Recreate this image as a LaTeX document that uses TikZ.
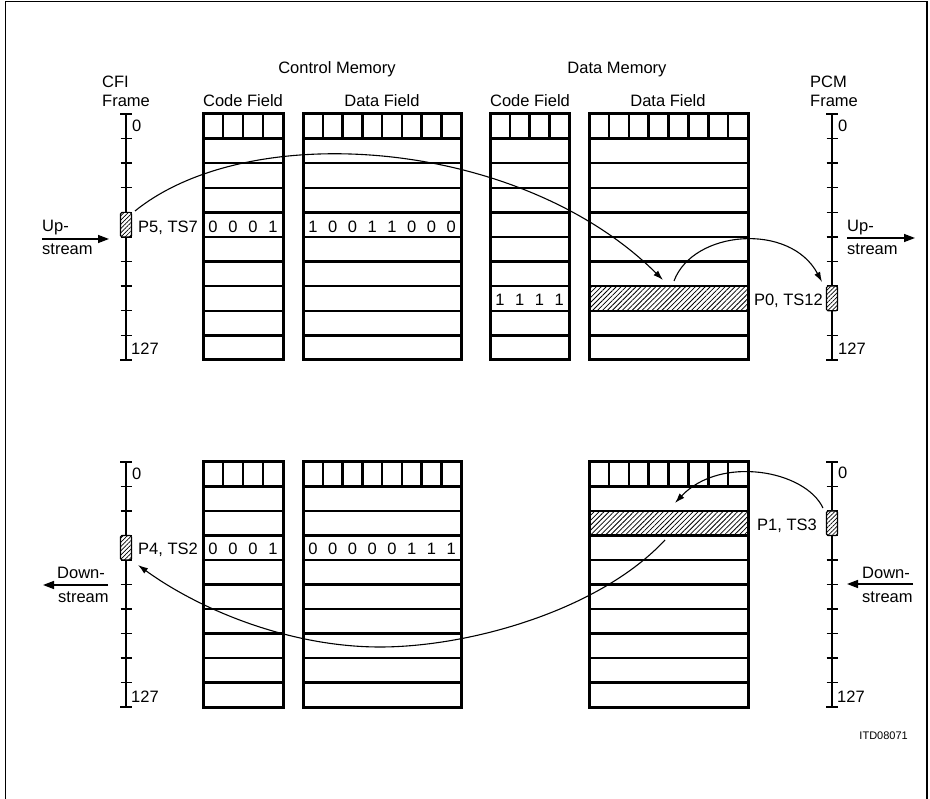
\documentclass[tikz,border=0pt]{standalone}
\usepackage{fontspec}
\setmainfont{Liberation Sans}
\usetikzlibrary{arrows.meta,patterns.meta}
\newcommand\drawmem[5]{%
  \pgfmathsetmacro\memybot{#3+10*#4}%
  \pgfmathtruncatemacro\memnm{#5-1}%
  \pgfmathsetmacro\memcw{(#2-#1)/#5}%
  \foreach \k in {1,...,9}{\draw[rowline] (#1,{#3+\k*#4}) -- (#2,{#3+\k*#4});}%
  \foreach \c in {1,...,\memnm}{\draw[rowline] ({#1+\c*\memcw},#3) -- ({#1+\c*\memcw},{#3+#4});}%
  \draw[memline] (#1,#3) rectangle (#2,\memybot);%
}
\newcommand\drawaxis[3]{%
  \draw[axisline] (#1,#2) -- (#1,{#2+10*#3});%
  \draw[axisline] ({#1-6},#2) -- ({#1+6},#2);%
  \draw[axisline] ({#1-6},{#2+10*#3}) -- ({#1+6},{#2+10*#3});%
  \foreach \k in {1,...,9}{\draw[axisline] ({#1-5.5},{#2+\k*#3}) -- ({#1+5.5},{#2+\k*#3});}%
}
% #1 name prefix, #2 x0, #3 cell width, #4 baseline, #5 digit list
\newcommand\digitrow[5]{%
  \foreach \d [count=\i] in {#5}{\node[ctr] (#1\i) at ({#2+(\i-0.5)*#3},#4) {\d};}%
}
\begin{document}
\begin{tikzpicture}[x=1pt,y=-1pt,
  every node/.style={inner sep=0pt, font=\fontsize{16.5}{19}\selectfont},
  memline/.style={line width=3pt, line join=miter},
  rowline/.style={line width=2.5pt},
  axisline/.style={line width=1.4pt},
  framebox/.style={line width=1.4pt},
  hatchbox/.style={draw, line width=1.1pt, rounded corners=1.5pt, minimum width=11pt, minimum height=24.6pt,
    preaction={fill=white}, pattern={Lines[angle=45,distance=3pt,line width=0.7pt]}},
  hatchrow/.style={minimum width=159pt, minimum height=24.6pt,
    pattern={Lines[angle=45,distance=3.5pt,line width=0.8pt]}},
  flow/.style={line width=1.1pt, -{Latex[length=10pt,width=6.5pt]}},
  streamarrow/.style={line width=1.4pt, -{Triangle[length=11pt,width=8pt]}},
  lbl/.style={anchor=base west},
  ctr/.style={anchor=base},
]
\useasboundingbox (0,0) rectangle (930,799);
% outer frame
\draw[framebox] (5.5,799) -- (5.5,1.5) -- (927,1.5) -- (927,799);

% ================= TOP SECTION =================
\node[lbl] (cfit) at (102,88) {CFI};
\node[lbl] (cfif) at (102,107) {Frame};
\node[lbl] (pcmt) at (810,88) {PCM};
\node[lbl] (pcmf) at (810,107) {Frame};
\node[ctr] (cmhead) at (337,74) {Control Memory};
\node[ctr] (dmhead) at (617,74) {Data Memory};
\node[ctr] (cmcf) at (243,107) {Code Field};
\node[ctr] (cmdf) at (382,107) {Data Field};
\node[ctr] (dmcf) at (530,107) {Code Field};
\node[ctr] (dmdf) at (668,107) {Data Field};

% hatched data memory row
\node[hatchrow] (dmrowA) at (668.5,298.5) {};
\drawmem{203}{283}{114}{24.6}{4}
\drawmem{303}{461}{114}{24.6}{8}
\drawmem{490}{569}{114}{24.6}{4}
\drawmem{589}{748}{114}{24.6}{8}

\drawaxis{126}{114}{24.6}
\drawaxis{832}{114}{24.6}
\node[hatchbox] (cfiA) at (126,224.7) {};
\node[hatchbox] (pcmA) at (832,298.5) {};

\node[lbl] (cfi0A) at (132,132) {0};
\node[lbl] (cfi127A) at (131,355) {127};
\node[lbl] (pcm0A) at (838,132) {0};
\node[lbl] (pcm127A) at (838,355) {127};

\node[lbl] (p5) at (138,232.5) {P5, TS7};
\digitrow{cca}{203}{20}{232.5}{0,0,0,1}
\digitrow{cda}{303}{19.75}{232.5}{1,0,0,1,1,0,0,0}
\digitrow{dca}{490}{19.75}{306}{1,1,1,1}
\node[anchor=base east] (p0) at (823,306) {P0, TS12};

% upstream arrows
\node[lbl] (upL) at (42,232) {Up-};
\node[lbl] (stL) at (42,255) {stream};
\coordinate (upLs) at (42,239);
\coordinate (upLe) at (109,239);
\draw[streamarrow] (upLs) -- (upLe);
\node[lbl] (upR) at (847,232) {Up-};
\node[lbl] (stR) at (847,255) {stream};
\coordinate (upRs) at (847,238);
\coordinate (upRe) at (915,238);
\draw[streamarrow] (upRs) -- (upRe);

% flows (top)
\coordinate (f1s) at (135,211);
\coordinate (f1e) at (663,280);
\coordinate (f2s) at (674,281);
\coordinate (f2e) at (822,282);
\draw[flow] (f1s) .. controls (250,118) and (520,138) .. (f1e);
\draw[flow] (f2s) .. controls (693,230) and (790,222) .. (f2e);

% ================= BOTTOM SECTION =================
\node[hatchrow, minimum height=24.5pt] (dmrowB) at (668.5,523.25) {};
\drawmem{203}{283}{462}{24.5}{4}
\drawmem{303}{461}{462}{24.5}{8}
\drawmem{589}{748}{462}{24.5}{8}

\drawaxis{126}{462}{24.5}
\drawaxis{832}{462}{24.5}
\node[hatchbox, minimum height=24.5pt] (cfiB) at (126,547.75) {};
\node[hatchbox, minimum height=24.5pt] (pcmB) at (832,523.25) {};

\node[lbl] (cfi0B) at (132,480) {0};
\node[lbl] (cfi127B) at (131,702) {127};
\node[lbl] (pcm0B) at (838,479) {0};
\node[lbl] (pcm127B) at (837,702) {127};

\node[lbl] (p4) at (138,555) {P4, TS2};
\digitrow{ccb}{203}{20}{555}{0,0,0,1}
\digitrow{cdb}{303}{19.75}{555}{0,0,0,0,0,1,1,1}
\node[lbl] (p1) at (757,530.5) {P1, TS3};

% downstream arrows
\node[lbl] (dnL) at (57,579) {Down-};
\node[lbl] (sdL) at (58,602) {stream};
\coordinate (dnLs) at (108,585);
\coordinate (dnLe) at (43,585);
\draw[streamarrow] (dnLs) -- (dnLe);
\node[lbl] (dnR) at (862,579) {Down-};
\node[lbl] (sdR) at (862,602) {stream};
\coordinate (dnRs) at (913,584);
\coordinate (dnRe) at (847,584);
\draw[streamarrow] (dnRs) -- (dnRe);

% flows (bottom)
\coordinate (f3s) at (823,508);
\coordinate (f3e) at (675,503);
\coordinate (f4s) at (665,540);
\coordinate (f4e) at (138,565);
\draw[flow] (f3s) .. controls (805,470) and (720,455) .. (f3e);
\draw[flow] (f4s) .. controls (600,610) and (470,647) .. (380,647) .. controls (290,647) and (200,610) .. (f4e);

\node[anchor=base east, font=\fontsize{11}{13}\selectfont] (itd) at (908,739) {ITD08071};
\end{tikzpicture}
\end{document}
